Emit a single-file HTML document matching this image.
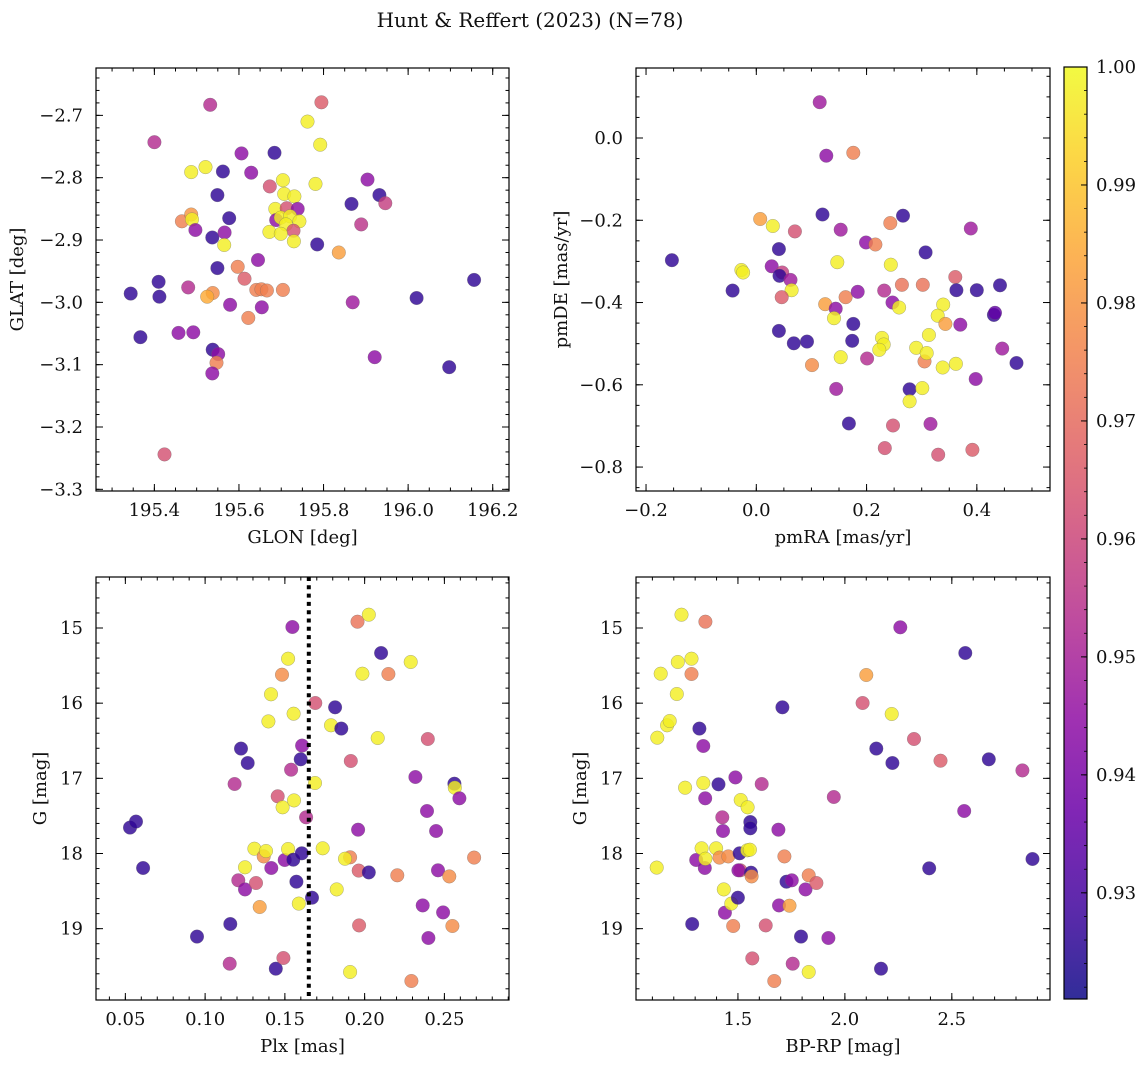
<!DOCTYPE html>
<html><head><meta charset="utf-8"><style>
html,body{margin:0;padding:0;background:#fff}
svg{display:block;font-family:"DejaVu Serif","Liberation Serif",serif}
</style></head><body>
<svg id="fig" width="1148" height="1067" viewBox="0 0 1148 1067" xmlns="http://www.w3.org/2000/svg">
<text x="530" y="27" text-anchor="middle" font-size="20" fill="#111">Hunt &amp; Reffert (2023) (N=78)</text>
<defs><linearGradient id="cbg" x1="0" y1="1" x2="0" y2="0"></linearGradient></defs>
</svg>
<script>
// ---- data ----
const p1Glon=[195.344,195.410,195.412,195.367,195.400,195.424,195.457,195.492,195.480,195.465,195.487,195.489,195.487,195.497,195.521,195.532,195.538,195.525,195.538,195.551,195.547,195.537,195.537,195.549,195.549,195.562,195.566,195.565,195.577,195.579,195.606,195.629,195.597,195.613,195.622,195.645,195.641,195.653,195.666,195.654,195.704,195.673,195.684,195.704,195.707,195.731,195.686,195.713,195.739,195.688,195.699,195.721,195.711,195.743,195.729,195.672,195.699,195.730,195.785,195.762,195.795,195.792,195.781,195.836,195.866,195.869,195.889,195.904,195.932,195.946,195.921,196.020,196.097,196.156];
const p1Glat=[-2.986,-2.967,-2.991,-3.056,-2.743,-3.244,-3.049,-3.048,-2.976,-2.870,-2.859,-2.867,-2.791,-2.884,-2.783,-2.683,-2.985,-2.991,-3.076,-3.083,-3.097,-3.114,-2.896,-2.828,-2.945,-2.790,-2.888,-2.908,-2.865,-3.004,-2.761,-2.792,-2.943,-2.962,-3.025,-2.932,-2.980,-2.979,-2.981,-3.008,-2.980,-2.814,-2.760,-2.804,-2.826,-2.830,-2.850,-2.849,-2.850,-2.868,-2.864,-2.862,-2.875,-2.870,-2.885,-2.887,-2.890,-2.902,-2.907,-2.710,-2.679,-2.747,-2.810,-2.920,-2.842,-3.000,-2.875,-2.803,-2.828,-2.841,-3.088,-2.993,-3.104,-2.964];
const p1Prob=[0.926,0.926,0.926,0.926,0.953,0.963,0.944,0.944,0.953,0.975,0.980,0.998,0.998,0.944,0.998,0.953,0.978,0.985,0.926,0.944,0.975,0.944,0.926,0.926,0.926,0.926,0.944,0.998,0.926,0.944,0.944,0.944,0.975,0.966,0.975,0.944,0.975,0.975,0.975,0.944,0.975,0.963,0.926,0.998,0.998,0.998,0.998,0.963,0.944,0.944,0.998,0.998,0.998,0.998,0.963,0.998,0.998,0.998,0.926,0.998,0.966,0.998,0.998,0.982,0.926,0.948,0.955,0.944,0.926,0.958,0.944,0.926,0.926,0.926];

const p2Pmra=[-0.153,-0.043,0.007,0.030,0.070,0.041,-0.027,-0.024,0.028,0.047,0.042,0.062,0.064,0.046,0.115,0.127,0.176,0.120,0.153,0.147,0.125,0.144,0.141,0.162,0.184,0.176,0.174,0.041,0.068,0.092,0.101,0.153,0.145,0.168,0.201,0.199,0.216,0.243,0.266,0.244,0.232,0.247,0.259,0.264,0.228,0.231,0.223,0.248,0.233,0.307,0.302,0.290,0.313,0.305,0.309,0.278,0.301,0.278,0.316,0.330,0.338,0.339,0.329,0.343,0.361,0.363,0.362,0.370,0.389,0.400,0.392,0.398,0.431,0.433,0.442,0.446,0.472];
const p2Pmde=[-0.297,-0.371,-0.197,-0.214,-0.227,-0.270,-0.321,-0.327,-0.312,-0.327,-0.335,-0.345,-0.370,-0.387,0.087,-0.043,-0.036,-0.186,-0.223,-0.302,-0.404,-0.415,-0.438,-0.387,-0.374,-0.452,-0.493,-0.469,-0.499,-0.495,-0.552,-0.533,-0.610,-0.694,-0.536,-0.254,-0.259,-0.207,-0.189,-0.308,-0.371,-0.400,-0.412,-0.357,-0.486,-0.502,-0.515,-0.699,-0.754,-0.278,-0.357,-0.510,-0.479,-0.543,-0.523,-0.611,-0.608,-0.640,-0.695,-0.770,-0.558,-0.405,-0.432,-0.452,-0.338,-0.370,-0.549,-0.454,-0.220,-0.370,-0.758,-0.586,-0.430,-0.425,-0.358,-0.512,-0.547];
const p2Prob=[0.926,0.926,0.982,0.998,0.963,0.926,0.998,0.998,0.944,0.958,0.926,0.948,0.998,0.966,0.948,0.944,0.975,0.926,0.948,0.998,0.982,0.944,0.998,0.975,0.944,0.926,0.926,0.926,0.926,0.926,0.978,0.998,0.948,0.926,0.953,0.944,0.975,0.975,0.926,0.998,0.953,0.944,0.998,0.972,0.998,0.998,0.998,0.963,0.963,0.926,0.972,0.998,0.998,0.975,0.998,0.926,0.998,0.998,0.948,0.963,0.998,0.998,0.998,0.982,0.966,0.926,0.998,0.944,0.948,0.926,0.966,0.944,0.926,0.935,0.926,0.948,0.926];

const p3Plx=[0.0529,0.0567,0.0611,0.0949,0.1158,0.1154,0.1185,0.1225,0.1267,0.1208,0.1250,0.1319,0.1250,0.1309,0.1367,0.1382,0.1342,0.1397,0.1413,0.1415,0.1455,0.1443,0.1491,0.1482,0.1520,0.1547,0.1486,0.1499,0.1520,0.1539,0.1555,0.1557,0.1553,0.1572,0.1587,0.1599,0.1608,0.1606,0.1633,0.1670,0.1689,0.1691,0.1737,0.1789,0.1815,0.1854,0.1825,0.1909,0.1877,0.1913,0.1955,0.1959,0.1963,0.1965,0.1909,0.2026,0.2026,0.1986,0.2103,0.2082,0.2149,0.2205,0.2289,0.2293,0.2318,0.2364,0.2391,0.2400,0.2396,0.2448,0.2460,0.2492,0.2531,0.2550,0.2563,0.2565,0.2594,0.2686];
const p3G=[17.656,17.576,18.193,19.106,18.938,19.466,17.075,16.605,16.796,18.357,18.477,18.392,18.184,17.936,18.038,17.967,18.712,16.242,15.882,18.193,17.239,19.532,19.390,15.621,15.408,14.987,17.386,18.087,17.940,16.885,16.140,17.293,18.082,18.375,18.667,16.747,16.565,17.998,17.519,18.588,17.062,15.998,17.931,16.295,16.055,16.339,18.477,18.051,18.069,16.769,14.916,17.683,18.228,18.956,19.577,14.823,18.251,15.608,15.333,16.463,15.612,18.290,15.452,19.696,16.982,18.690,17.435,19.124,16.477,17.701,18.224,18.783,18.304,18.965,17.071,17.124,17.266,18.055];
const p3Prob=[0.926,0.926,0.926,0.926,0.926,0.953,0.953,0.926,0.926,0.953,0.944,0.963,0.998,0.998,0.978,0.998,0.982,0.998,0.998,0.944,0.963,0.926,0.963,0.978,0.998,0.944,0.998,0.944,0.998,0.953,0.998,0.998,0.926,0.926,0.998,0.926,0.944,0.926,0.953,0.926,0.998,0.963,0.998,0.998,0.926,0.926,0.998,0.975,0.998,0.963,0.972,0.944,0.966,0.966,0.998,0.998,0.926,0.998,0.926,0.998,0.975,0.975,0.998,0.975,0.944,0.944,0.944,0.944,0.963,0.944,0.944,0.944,0.978,0.978,0.926,0.998,0.944,0.975];

const p4Bprp=[1.120,1.123,1.139,1.169,1.181,1.214,1.219,1.236,1.253,1.283,1.283,1.348,1.286,1.305,1.320,1.338,1.330,1.338,1.347,1.345,1.348,1.398,1.409,1.414,1.427,1.430,1.434,1.439,1.455,1.469,1.478,1.488,1.500,1.508,1.513,1.511,1.502,1.545,1.544,1.558,1.558,1.561,1.564,1.556,1.567,1.611,1.630,1.670,1.689,1.692,1.708,1.717,1.727,1.741,1.752,1.756,1.795,1.816,1.831,1.831,1.867,1.923,1.948,2.083,2.100,2.147,2.169,2.219,2.222,2.259,2.323,2.394,2.447,2.558,2.563,2.673,2.830,2.877];
const p4G=[18.188,16.459,15.608,16.295,16.237,15.878,15.452,14.823,17.124,15.408,15.612,14.916,18.938,18.087,16.339,16.570,17.931,17.062,17.266,18.193,18.069,17.931,17.080,18.055,17.519,17.701,18.477,18.787,18.038,18.667,18.965,16.987,18.588,17.998,17.288,18.224,18.224,17.386,17.958,17.581,17.665,18.255,18.304,17.949,19.395,17.075,18.956,19.696,17.683,18.690,16.055,18.038,18.375,18.694,18.357,19.466,19.106,18.477,18.290,19.577,18.392,19.124,17.248,15.998,15.625,16.605,19.532,16.144,16.796,14.991,16.477,18.197,16.765,17.435,15.333,16.747,16.894,18.073];
const p4Prob=[0.998,0.998,0.998,0.998,0.998,0.998,0.998,0.998,0.998,0.998,0.975,0.972,0.926,0.944,0.926,0.944,0.998,0.998,0.944,0.944,0.998,0.998,0.926,0.978,0.953,0.944,0.998,0.944,0.978,0.998,0.975,0.944,0.926,0.926,0.998,0.963,0.944,0.998,0.998,0.926,0.926,0.926,0.978,0.998,0.963,0.953,0.963,0.975,0.944,0.944,0.926,0.975,0.926,0.982,0.944,0.953,0.926,0.944,0.975,0.998,0.966,0.944,0.953,0.963,0.982,0.926,0.926,0.998,0.926,0.944,0.963,0.926,0.966,0.944,0.926,0.926,0.953,0.926];

const p1XTicks=[195.4,195.6,195.8,196.0,196.2], p1XLabels=["195.4","195.6","195.8","196.0","196.2"];
const p1YTicks=[-2.7,-2.8,-2.9,-3.0,-3.1,-3.2,-3.3], p1YLabels=["\u22122.7","\u22122.8","\u22122.9","\u22123.0","\u22123.1","\u22123.2","\u22123.3"];
const p2XTicks=[-0.2,0.0,0.2,0.4], p2XLabels=["\u22120.2","0.0","0.2","0.4"];
const p2YTicks=[0.0,-0.2,-0.4,-0.6,-0.8], p2YLabels=["0.0","\u22120.2","\u22120.4","\u22120.6","\u22120.8"];
const p3XTicks=[0.05,0.10,0.15,0.20,0.25], p3XLabels=["0.05","0.10","0.15","0.20","0.25"];
const gTicks=[15,16,17,18,19], gLabels=["15","16","17","18","19"];
const p4XTicks=[1.5,2.0,2.5], p4XLabels=["1.5","2.0","2.5"];
const cbTicks=[0.93,0.94,0.95,0.96,0.97,0.98,0.99,1.00], cbLabels=["0.93","0.94","0.95","0.96","0.97","0.98","0.99","1.00"];
const plxRef=[0.165];
const VMIN=0.921, VMAX=1.0;

// ---- helpers ----
const NS="http://www.w3.org/2000/svg";
const svg=document.getElementById('fig');
function mk(tag,attrs,parent){const e=document.createElementNS(NS,tag);for(const k in attrs)e.setAttribute(k,attrs[k]);(parent||svg).appendChild(e);return e;}
const stops=[[13,8,135],[65,4,157],[106,0,168],[143,13,164],[177,42,144],[204,71,120],[225,100,98],[242,132,75],[252,166,54],[252,206,37],[240,249,33]];
function plasma(t){t=Math.max(0,Math.min(1,t));const f=t*10,i=Math.min(9,Math.floor(f)),u=f-i;const a=stops[i],b=stops[i+1];return `rgb(${Math.round(a[0]+(b[0]-a[0])*u)},${Math.round(a[1]+(b[1]-a[1])*u)},${Math.round(a[2]+(b[2]-a[2])*u)})`;}
function cmap(v){return plasma((v-VMIN)/(VMAX-VMIN));}
const TF=18, LF=18;

function panel(o){
  const g=mk('g',{});
  
  
  const sx=v=>o.x0+(v-o.xd[0])/(o.xd[1]-o.xd[0])*(o.x1-o.x0);
  const sy=v=>o.y0+(v-o.yd[0])/(o.yd[1]-o.yd[0])*(o.y1-o.y0);
  const pts=mk('g',{},g);
  
  
  for(let i=0;i<o.xs.length;i++){
    const c=mk('circle',{cx:sx(o.xs[i]).toFixed(1),cy:sy(o.ys[i]).toFixed(1),r:6.8,fill:cmap(o.cs[i]),'fill-opacity':0.82,stroke:'#666','stroke-opacity':0.55,'stroke-width':0.5},pts);
    
    
  }
  if(o.vline){o.vline.forEach(v=>{const l=mk('line',{x1:sx(v),x2:sx(v),y1:o.y0,y2:o.y1,stroke:'#000','stroke-width':4,'stroke-dasharray':'4,4.3'},g);
    
    });}
  const tk=mk('g',{stroke:'#000','stroke-width':1},g);
  
  
  const lo=(a,b)=>Math.min(a,b),hi=(a,b)=>Math.max(a,b);
  const xmin=lo(...o.xd),xmax=hi(...o.xd),ymin=lo(...o.yd),ymax=hi(...o.yd);
  function xt(v,len){const X=sx(v);mk('line',{x1:X,x2:X,y1:o.y1,y2:o.y1-len},tk);mk('line',{x1:X,x2:X,y1:o.y0,y2:o.y0+len},tk);}
  function yt(v,len){const Y=sy(v);mk('line',{x1:o.x0,x2:o.x0+len,y1:Y,y2:Y},tk);mk('line',{x1:o.x1,x2:o.x1-len,y1:Y,y2:Y},tk);}
  for(let k=Math.ceil(xmin/o.xm-1e-6);k*o.xm<=xmax+1e-9;k++)xt(k*o.xm,3.5);
  for(let k=Math.ceil(ymin/o.ym-1e-6);k*o.ym<=ymax+1e-9;k++)yt(k*o.ym,3.5);
  o.xt.forEach((v,i)=>{xt(v,7);const t=mk('text',{x:sx(v),y:o.y1+25,'text-anchor':'middle','font-size':TF,fill:'#111'},g);t.textContent=o.xl[i];
    
    });
  o.yt.forEach((v,i)=>{yt(v,7);const t=mk('text',{x:o.x0-13,y:sy(v)+6,'text-anchor':'end','font-size':TF,fill:'#111'},g);t.textContent=o.yl[i];
    
    });
  const fr=mk('rect',{x:o.x0,y:o.y0,width:o.x1-o.x0,height:o.y1-o.y0,fill:'none',stroke:'#000','stroke-width':1.2},g);
  
  
  const xa=mk('text',{x:(o.x0+o.x1)/2,y:o.y1+52,'text-anchor':'middle','font-size':LF,fill:'#111'},g);xa.textContent=o.xlab;
  
  
  const cy=(o.y0+o.y1)/2;
  const ya=mk('text',{x:o.ylx,y:cy,'text-anchor':'middle','font-size':LF,fill:'#111',transform:`rotate(-90 ${o.ylx} ${cy})`},g);ya.textContent=o.ylab;
  
  
}

panel({name:'position-panel',x0:96,x1:509,y0:68,y1:491,xd:[195.262,196.2385],yd:[-2.624,-3.3027],xs:p1Glon,ys:p1Glat,cs:p1Prob,xt:p1XTicks,xl:p1XLabels,yt:p1YTicks,yl:p1YLabels,xm:0.05,ym:0.02,xlab:'GLON [deg]',ylab:'GLAT [deg]',ylx:23});
panel({name:'proper-motion-panel',x0:636,x1:1050,y0:68,y1:491,xd:[-0.2182,0.5327],yd:[0.1702,-0.8582],xs:p2Pmra,ys:p2Pmde,cs:p2Prob,xt:p2XTicks,xl:p2XLabels,yt:p2YTicks,yl:p2YLabels,xm:0.05,ym:0.05,xlab:'pmRA [mas/yr]',ylab:'pmDE [mas/yr]',ylx:567});
panel({name:'parallax-panel',x0:96,x1:509,y0:577,y1:1000,xd:[0.0316,0.2905],yd:[14.3215,19.949],xs:p3Plx,ys:p3G,cs:p3Prob,xt:p3XTicks,xl:p3XLabels,yt:gTicks,yl:gLabels,xm:0.01,ym:0.2,xlab:'Plx [mas]',ylab:'G [mag]',ylx:46,vline:plxRef});
panel({name:'cmd-panel',x0:636,x1:1050,y0:577,y1:1000,xd:[1.0234,2.959],yd:[14.3215,19.949],xs:p4Bprp,ys:p4G,cs:p4Prob,xt:p4XTicks,xl:p4XLabels,yt:gTicks,yl:gLabels,xm:0.1,ym:0.2,xlab:'BP-RP [mag]',ylab:'G [mag]',ylx:586});

// colorbar
const grad=document.getElementById('cbg');
for(let i=0;i<=20;i++){mk('stop',{offset:(i/20),'stop-color':plasma(i/20),'stop-opacity':0.85},grad);}
const cb=mk('g',{});


const cbx0=1064,cbx1=1087,cby0=67,cby1=999;
mk('rect',{x:cbx0,y:cby0,width:cbx1-cbx0,height:cby1-cby0,fill:'url(#cbg)',stroke:'#000','stroke-width':1.2},cb);
const cbY=v=>cby1-(v-VMIN)/(VMAX-VMIN)*(cby1-cby0);
cbTicks.forEach((v,i)=>{const Y=cbY(v);mk('line',{x1:cbx1,x2:cbx1-6,y1:Y,y2:Y,stroke:'#000','stroke-width':1},cb);
  const t=mk('text',{x:cbx1+9,y:Y+6,'font-size':TF,fill:'#111'},cb);t.textContent=cbLabels[i];
  
  });
for(let v=0.922;v<1.0;v+=0.002){const Y=cbY(v);mk('line',{x1:cbx1,x2:cbx1-3,y1:Y,y2:Y,stroke:'#000','stroke-width':0.8},cb);}
</script>
</body></html>
